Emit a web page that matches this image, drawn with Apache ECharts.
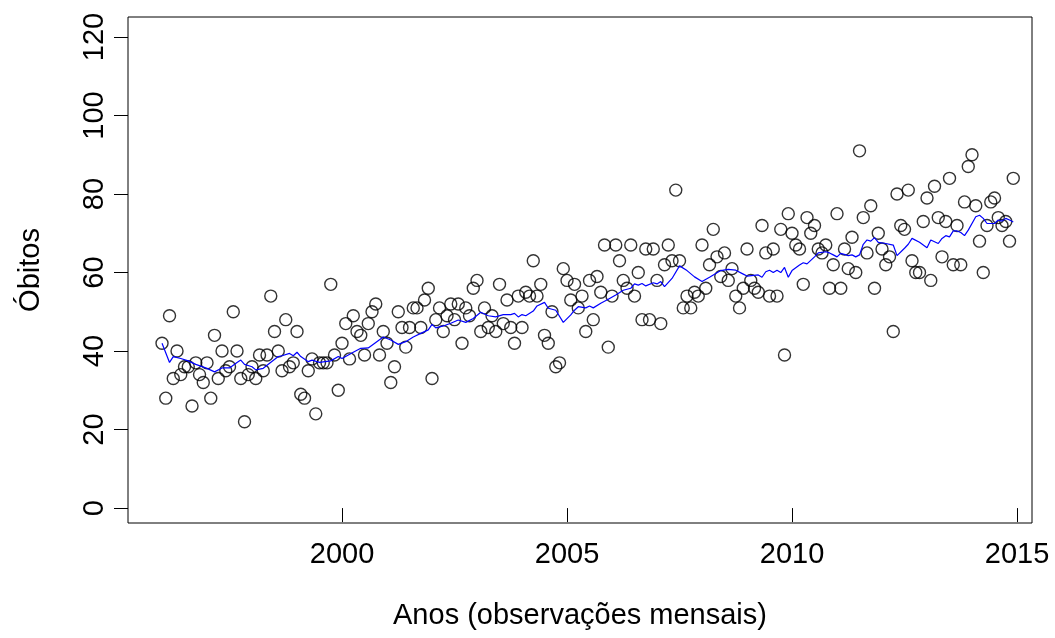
<!DOCTYPE html>
<html>
<head>
<meta charset="utf-8">
<script src="https://cdn.jsdelivr.net/npm/echarts@6/dist/echarts.min.js"></script>
<style>
  html, body { margin: 0; padding: 0; background: #fff; }
  #chart { width: 1055px; height: 638px; }
</style>
</head>
<body>
<div id="chart"></div>
<script>
// Monthly deaths, January 1996 to December 2014 (one value per month)
const startYear = 1996;
const obitos = [
  42,28,49,33,40,34,36,36,26,37,34,32, // 1996
  37,28,44,33,40,35,36,50,40,33,22,34, // 1997
  36,33,39,35,39,54,45,40,35,48,36,37, // 1998
  45,29,28,35,38,24,37,37,37,57,39,30, // 1999
  42,47,38,49,45,44,39,47,50,52,39,45, // 2000
  42,32,36,50,46,41,46,51,51,46,53,56, // 2001
  33,48,51,45,49,52,48,52,42,51,49,56, // 2002
  58,45,51,46,49,45,57,47,53,46,42,54, // 2003
  46,55,54,63,54,57,44,42,50,36,37,61, // 2004
  58,53,57,51,54,45,58,48,59,55,67,41, // 2005
  54,67,63,58,56,67,54,60,48,66,48,66, // 2006
  58,47,62,67,63,81,63,51,54,51,55,54, // 2007
  67,56,62,71,64,59,65,58,61,54,51,56, // 2008
  66,58,56,55,72,65,54,66,54,71,39,75, // 2009
  70,67,66,57,74,70,72,66,65,67,56,62, // 2010
  75,56,66,61,69,60,91,74,65,77,56,70, // 2011
  66,62,64,45,80,72,71,81,63,60,60,73, // 2012
  79,58,82,74,64,73,84,62,72,62,78,87, // 2013
  90,77,68,60,72,78,79,74,72,73,68,84  // 2014
];

// Fitted curve: month index (0 = Jan 1996) and fitted value
const fitMonth = [
  0,2,3,5,7,9,12,14,16,18,20,21,22,24,25,27,28,31,32,34,35,36,37,39,40,42,45,47,48,
  51,53,55,57,59,61,63,65,67,69,71,72,73,75,77,79,81,83,85,87,89,91,93,94,95,96,97,
  99,100,102,103,105,107,109,110,111,113,114,115,117,118,119,121,123,125,126,127,128,
  129,131,132,133,134,136,138,140,142,144,146,147,149,151,153,155,156,159,160,161,162,
  163,164,165,166,167,168,170,171,172,174,175,177,178,179,180,181,183,184,185,186,187,
  188,189,190,191,193,195,196,198,199,200,202,204,205,207,208,209,210,211,212,213,214,
  215,217,218,219,220,222,223,224,225,226,227
];
const fitValue = [
  42,37.1,38.6,38.1,37.5,36.6,35.6,34.7,35.7,35.7,37.1,37.7,36.6,36,35.2,35.6,36.4,38.6,38.8,39.4,38.8,39.7,38.6,37.3,37.7,37.1,37.5,38.6,38.1,
  39.7,40.7,40.8,42.2,43.6,42.8,41.7,42.4,43.6,44.5,45.4,46.8,45.9,46.4,47.1,47.9,47.3,48.3,49.9,49,48.7,49.3,49.3,49.6,48.7,49.3,49,
  50.2,51.5,52.4,50.9,50.4,47.3,49.2,50.4,51.3,51,51.5,51,52.2,52.7,53.2,54.3,55.5,56,57.1,56.8,57.2,
  56.6,57.4,57.1,57.7,56.4,58.5,61.7,60.5,58.9,57.7,58.8,59.4,60.5,60.8,60.6,59.6,59.1,59.4,58.8,60.2,60.6,
  60.0,60.6,60.0,61.3,58.8,60.5,61.9,62.5,62.2,64,65,65.3,65.0,64.5,64,64.9,64.3,64.5,64,64.5,67.2,
  68.3,68,68.9,67.7,67.4,67,64.3,66.2,67.2,68.7,67.7,66.3,68.3,67.4,68.7,69.4,69.1,70.6,70.6,70.2,69.4,
  70.8,74.2,74.6,73.8,72.5,72.5,73.4,73.1,73.8,73.4,72.9
];

const xTicks = [2000, 2005, 2010, 2015];
const yTicks = [0, 20, 40, 60, 80, 100, 120];
const xTitle = 'Anos (observações mensais)';
const yTitle = 'Óbitos';

const toYear = m => startYear + m / 12;
const pointData = obitos.map((v, i) => [toYear(i), v]);
const fitData = fitMonth.map((m, k) => [toYear(m), fitValue[k]]);

const FONT = '"Liberation Sans", Arial, Helvetica, sans-serif';
const plain = v => String(Math.round(v));
const chart = echarts.init(document.getElementById('chart'), null, { renderer: 'canvas' });

chart.setOption({
  animation: false,
  backgroundColor: '#ffffff',
  textStyle: { fontFamily: FONT },
  grid: {
    left: 128, right: 23, top: 17, bottom: 115,
    show: true, borderColor: '#000', borderWidth: 1, backgroundColor: 'transparent'
  },
  xAxis: {
    type: 'value',
    min: 1995.244, max: 2015.333,
    name: xTitle,
    nameLocation: 'middle',
    nameGap: 78,
    nameTextStyle: { color: '#000', fontSize: 29, fontFamily: FONT },
    axisLine: { show: false },
    splitLine: { show: false },
    axisTick: { show: true, customValues: xTicks, length: 14, lineStyle: { color: '#000', width: 1 } },
    axisLabel: { customValues: xTicks, formatter: plain, color: '#000', fontSize: 29, fontFamily: FONT, margin: 17 }
  },
  yAxis: {
    type: 'value',
    min: -3.8, max: 125.1,
    name: yTitle,
    nameLocation: 'middle',
    nameGap: 83,
    nameTextStyle: { color: '#000', fontSize: 29, fontFamily: FONT },
    axisLine: { show: false },
    splitLine: { show: false },
    axisTick: { show: true, customValues: yTicks, length: 14, lineStyle: { color: '#000', width: 1 } },
    axisLabel: { customValues: yTicks, formatter: plain, color: '#000', fontSize: 29, fontFamily: FONT, margin: 19, rotate: 90 }
  },
  series: [
    {
      name: 'Óbitos',
      type: 'scatter',
      data: pointData,
      symbol: 'circle',
      symbolSize: 12,
      silent: true,
      itemStyle: { color: 'rgba(0,0,0,0)', borderColor: '#000', borderWidth: 1.4 },
      z: 2
    },
    {
      name: 'Ajuste',
      type: 'line',
      data: fitData,
      symbol: 'none',
      silent: true,
      lineStyle: { color: '#0000ff', width: 1.2 },
      z: 3
    }
  ]
});
</script>
</body>
</html>
